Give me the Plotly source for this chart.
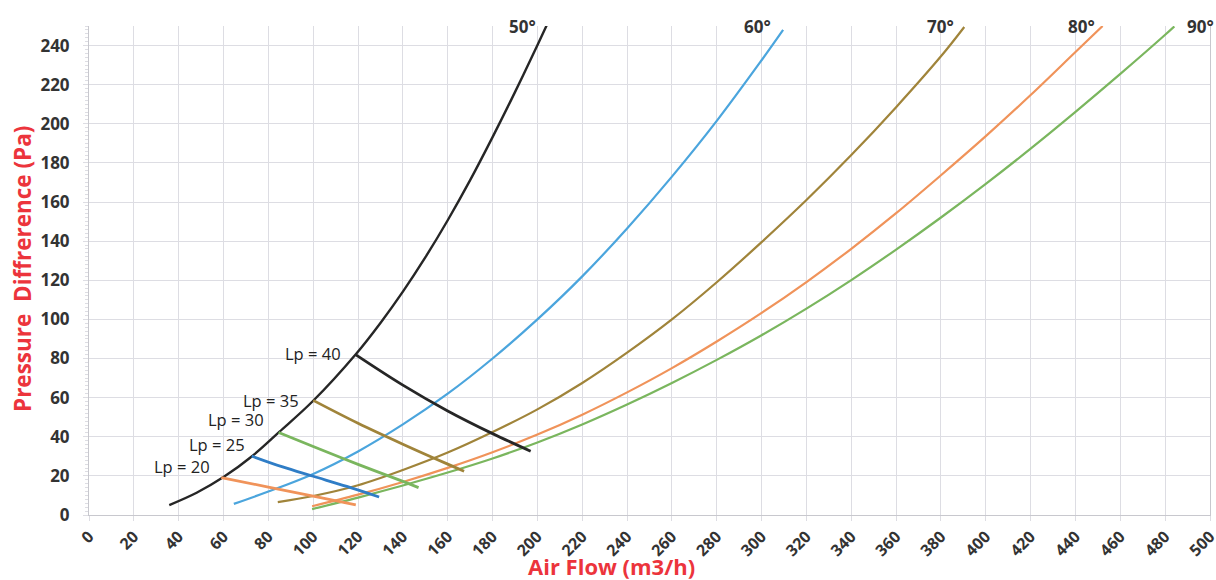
import plotly.graph_objects as go

# ---- data ----
q50 = [35.8, 48, 60, 73, 85, 100, 119, 130, 140, 150, 160, 170, 180, 190, 200, 204.2]
p50 = [5.1, 11.4, 19.4, 30.3, 42.6, 58.4, 82.2, 98.2, 114.2, 131.7, 150.7, 171.2, 193.2, 216.2, 240.2, 250.5]

q60 = [64.6, 80, 100, 120, 140, 160, 180, 200, 220, 240, 260, 280, 300, 309.6]
p60 = [5.7, 12, 21, 32.5, 46.3, 62, 80, 100, 122, 146.5, 173, 201.5, 232.5, 248]

q70 = [84.2, 100, 120, 140, 160, 180, 200, 220, 240, 260, 280, 300, 320, 340, 360, 380, 390.4]
p70 = [6.6, 9.7, 15.2, 23, 31.9, 42.4, 54, 67.5, 83, 100, 119, 139.5, 161, 184, 208.5, 234.5, 249.5]

q80 = [99.5, 120, 140, 160, 180, 200, 220, 240, 260, 280, 300, 320, 340, 360, 380, 400, 420, 440, 452.1]
p80 = [4.5, 10.4, 16.9, 24.1, 32.1, 41.1, 51.3, 62.7, 75.1, 88.7, 103.3, 119.1, 136.1, 154.3, 173.7, 193.7, 214.7, 236.7, 250]

q90 = [99.5, 120, 140, 160, 180, 200, 220, 240, 260, 280, 300, 320, 340, 360, 380, 400, 420, 440, 460, 480, 484.1]
p90 = [3, 8.9, 15.1, 21.7, 28.9, 37.1, 46.3, 56.5, 67.5, 79.3, 91.9, 105.5, 120.1, 135.7, 152.1, 169.3, 187.3, 206.1, 225.5, 245.5, 249.8]

lp20_q = [59, 80, 100, 119]
lp20_p = [19.1, 14.3, 9.7, 5.2]
lp25_q = [72.6, 86, 100, 115, 129.4]
lp25_p = [30.1, 24.7, 19.8, 14.6, 9.2]
lp30_q = [84.6, 100, 120, 140, 147]
lp30_p = [42.2, 35.0, 25.9, 17.2, 14.0]
lp35_q = [100, 120, 140, 160, 167.3]
lp35_p = [58.6, 46.9, 36.2, 26, 22.4]
lp40_q = [118.9, 140, 160, 180, 197]
lp40_p = [82, 66.4, 53.2, 41.6, 32.6]

angle_labels = ["50°", "60°", "70°", "80°", "90°"]
angle_label_q = [200.4, 304.9, 386.6, 449.7, 490.1]
angle_label_p = [249.8, 249.8, 249.8, 249.8, 249.8]

lp_labels = ["Lp = 20", "Lp = 25", "Lp = 30", "Lp = 35", "Lp = 40"]
lp_label_q = [54.7, 70.3, 78.9, 94.4, 113.4]
lp_label_p = [25, 36.3, 48.6, 58.3, 82.7]

x_title = "Air Flow (m3/h)"
y_title = "Pressure  Diffrerence (Pa)"

# ---- styles ----
C_BLACK = "#262626"
C_BLUE = "#4BA5DD"
C_OLIVE = "#A0843A"
C_ORANGE = "#F0935A"
C_GREEN = "#7AB65E"
C_DBLUE = "#2F7DC6"
RED = "#EC343C"
GRID = "#DDDDE3"
TXT = "#333333"

fig = go.Figure()

main = [(q50, p50, C_BLACK, 2.4), (q60, p60, C_BLUE, 2.2), (q70, p70, C_OLIVE, 2.2),
        (q80, p80, C_ORANGE, 2.2), (q90, p90, C_GREEN, 2.2)]
for q, p, c, w in main:
    fig.add_trace(go.Scatter(x=q, y=p, mode="lines", line=dict(color=c, width=w, shape="spline", smoothing=1),
                             showlegend=False, hoverinfo="skip", cliponaxis=False))

lps = [(lp20_q, lp20_p, C_ORANGE), (lp25_q, lp25_p, C_DBLUE), (lp30_q, lp30_p, C_GREEN),
       (lp35_q, lp35_p, C_OLIVE), (lp40_q, lp40_p, C_BLACK)]
for q, p, c in lps:
    fig.add_trace(go.Scatter(x=q, y=p, mode="lines", line=dict(color=c, width=2.8, shape="spline", smoothing=1),
                             showlegend=False, hoverinfo="skip"))

annotations = []
for i, t in enumerate(angle_labels):
    annotations.append(dict(x=angle_label_q[i], y=angle_label_p[i], xref="x", yref="y", text=t,
                            showarrow=False, xanchor="left" if i == 4 else "right", yanchor="middle",
                            xshift=-3 if i == 4 else 0,
                            font=dict(family="Open Sans", size=17, color=TXT, weight="bold")))
for i, t in enumerate(lp_labels):
    annotations.append(dict(x=lp_label_q[i], y=lp_label_p[i], xref="x", yref="y", text=t,
                            showarrow=False, xanchor="right", yanchor="middle",
                            font=dict(family="Open Sans", size=16.5, color="#222222")))
annotations.append(dict(x=0.4657, y=-0.104, xref="paper", yref="paper", text=x_title, showarrow=False,
                        xanchor="center", yanchor="middle",
                        font=dict(family="Open Sans", size=22, color=RED, weight="bold")))
annotations.append(dict(x=-0.0598, y=0.503, xref="paper", yref="paper", text=y_title, showarrow=False,
                        textangle=-90, xanchor="center", yanchor="middle",
                        font=dict(family="Open Sans", size=22.5, color=RED, weight="bold")))

fig.update_layout(
    width=1216, height=580,
    margin=dict(l=89, r=6, t=26, b=65, autoexpand=False),
    plot_bgcolor="white", paper_bgcolor="white",
    annotations=annotations,
    xaxis=dict(range=[0, 500], dtick=20, tick0=0, showgrid=True, gridcolor=GRID, gridwidth=1,
               zeroline=False, showline=True, linecolor="#C8C8CE", linewidth=1, automargin=False,
               ticks="outside", ticklen=5, tickcolor=GRID, tickangle=-45, ticklabeloverflow="allow",
               tickfont=dict(family="Open Sans", size=16, color=TXT, weight="bold")),
    yaxis=dict(range=[0, 250], dtick=20, tick0=0, showgrid=True, gridcolor=GRID, gridwidth=1,
               zeroline=False, showline=True, linecolor="#C8C8CE", linewidth=1, automargin=False,
               mirror=True,
               ticks="outside", ticklen=5, tickcolor=GRID, ticklabelstandoff=10,
               minor=dict(dtick=2, ticks="outside", ticklen=3, tickcolor=GRID, showgrid=False),
               tickfont=dict(family="Open Sans", size=17, color=TXT, weight="bold")),
)

fig.write_html("out.html", config={"displayModeBar": False},
               post_script="document.body.style.margin='0';document.body.style.overflow='hidden';")
